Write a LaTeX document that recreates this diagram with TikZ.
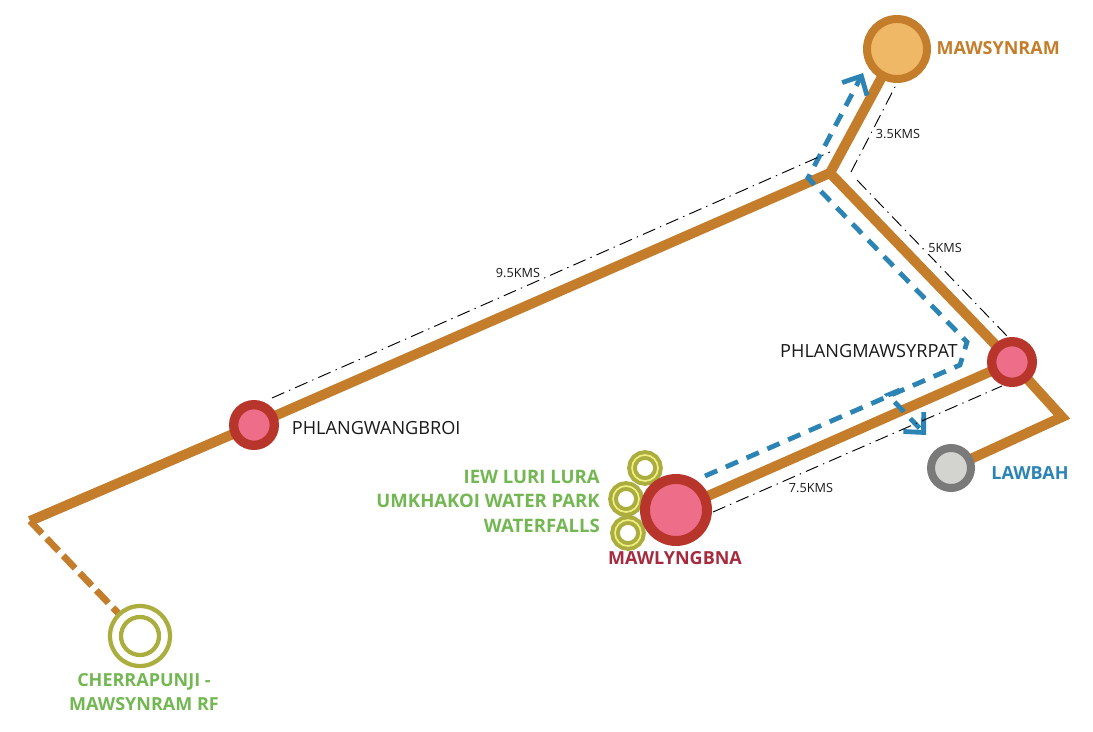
\documentclass[tikz,border=0pt]{standalone}
\usepackage{fontspec}
\setmainfont{Open Sans}
\usepackage{xcolor}
\usetikzlibrary{arrows.meta,positioning,backgrounds}
\definecolor{roadline}{RGB}{196,125,42}
\definecolor{sunbg}{RGB}{239,184,102}
\definecolor{townline}{RGB}{184,53,43}
\definecolor{townbg}{RGB}{238,110,138}
\definecolor{greyline}{RGB}{122,122,122}
\definecolor{greybg}{RGB}{211,211,207}
\definecolor{oliveline}{RGB}{171,173,63}
\definecolor{paleline}{RGB}{240,240,130}
\definecolor{forestgreen}{RGB}{115,183,82}
\definecolor{routeblue}{RGB}{43,132,180}
\definecolor{townname}{RGB}{166,43,63}
\tikzset{
  road/.style={draw=roadline, line width=7.5pt, line join=miter},
  roaddashed/.style={draw=roadline, line width=5pt, dash pattern=on 13pt off 5pt},
  ring/.style={circle, inner sep=0pt, outer sep=0pt},
  townring/.style={ring, draw=townline, fill=townbg, line width=7pt, minimum size=30.5pt},
  bigring/.style={ring, draw=townline, fill=townbg, line width=7.5pt, minimum size=46.5pt},
  sunring/.style={ring, draw=roadline, fill=sunbg, line width=6pt, minimum size=45pt},
  greyring/.style={ring, draw=greyline, fill=greybg, line width=6pt, minimum size=30pt},
  forestring/.style={ring, draw=oliveline, line width=3.2pt},
  fallring/.style={ring, draw=oliveline, fill=white, line width=3pt, double=paleline, double distance=1.25pt, minimum size=19.5pt},
  route/.style={draw=routeblue, line width=3.6pt, dash pattern=on 10pt off 7pt},
  routetip/.style={-{Straight Barb[length=11pt,width=21pt,sharp]}},
  measure/.style={draw=black, line width=0.7pt, dash pattern=on 10pt off 4pt on 1pt off 4pt},
  distlabel/.style={font=\fontsize{9.5}{11}\selectfont, inner sep=1pt, text=black!90},
  placelabel/.style={font=\fontsize{13.6}{15}\selectfont, inner sep=0pt, text=black!90},
  colorlabel/.style={font=\fontsize{13.5}{18.2}\selectfont\bfseries, inner sep=0pt},
  falllabel/.style={font=\fontsize{13.9}{18.4}\selectfont\bfseries, inner sep=0pt}
}
\begin{document}
\begin{tikzpicture}[x=0.75pt, y=-0.75pt]
  \useasboundingbox (0,0) rectangle (1093,732);

  % places
  \node[sunring] (mawsynram) at (897,49) {};
  \node[townring] (wangbroi) at (254,425) {};
  \node[townring] (mawsyrpat) at (1012,362) {};
  \node[greyring] (lawbah) at (951,468) {};
  \node[fallring] (fallone) at (645,468) {};
  \node[fallring] (falltwo) at (626,499) {};
  \node[fallring] (fallthree) at (628,533) {};
  \node[bigring] (mawlyngbna) at (676,510) {};
  \node[forestring, minimum size=45pt] (forest) at (140,636) {};
  \node[forestring, minimum size=28.5pt] (forestin) at (140,636) {};

  % road bends
  \coordinate (roadend) at (30,521);
  \coordinate (fork) at (830,173);
  \coordinate (bend) at (1062,417);

  \begin{scope}[on background layer]
    \draw[road] (roadend) -- (wangbroi.center);
    \draw[road] (wangbroi.center) -- (fork) -- (mawsynram.center);
    \draw[road] (fork) -- (mawsyrpat.center);
    \draw[road] (mawsyrpat.center) -- (bend) -- (lawbah.center);
    \draw[road] (mawlyngbna.center) -- (mawsyrpat.center);
    \draw[roaddashed] (roadend) -- (forest);
  \end{scope}

  % route
  \coordinate (routea) at (705,476);
  \coordinate (routeb) at (960,365);
  \coordinate (routec) at (967,342);
  \coordinate (routed) at (808,178);
  \coordinate (routee) at (863,73);
  \coordinate (routef) at (900,390);
  \coordinate (routeg) at (888,395);
  \coordinate (routeh) at (926,435);
  \draw[route, routetip] (routea) -- (routeb) -- (routec) -- (routed) -- (routee);
  \draw[route, routetip] (routef) -- (routeg) -- (routeh);

  % distances
  \coordinate (measa) at (272,398);
  \coordinate (measb) at (830,152);
  \coordinate (measc) at (851,172);
  \coordinate (measd) at (897,83);
  \coordinate (mease) at (857,180);
  \coordinate (measf) at (1007,336);
  \coordinate (measg) at (713,512);
  \coordinate (meash) at (1002,386);
  \draw[measure] (measa) -- (measb);
  \draw[measure] (measc) -- (measd);
  \draw[measure] (mease) -- (measf);
  \draw[measure] (measg) -- (meash);
  \node[distlabel, fill=white] (dista) at (518,273) {9.5KMS};
  \node[distlabel] (distb) at (898,134) {3.5KMS};
  \node[distlabel, fill=white] (distc) at (945,248) {5KMS};
  \node[distlabel] (distd) at (811,488) {7.5KMS};

  % names
  \node[colorlabel, text=roadline, right=7pt of mawsynram, yshift=1pt] (mawsynramname) {MAWSYNRAM};
  \node[placelabel, right=13pt of wangbroi, yshift=-2pt] (wangbroiname) {PHLANGWANGBROI};
  \node[placelabel, anchor=east] (mawsyrpatname) at (958,351) {PHLANGMAWSYRPAT};
  \node[colorlabel, text=routeblue] (lawbahname) at (1030,473) {LAWBAH};
  \node[colorlabel, text=townname] (mawlyngbnaname) at (675,558) {MAWLYNGBNA};
  \node[falllabel, text=forestgreen, align=right, anchor=east] (fallname) at (600,501) {IEW LURI LURA\\UMKHAKOI WATER PARK\\WATERFALLS};
  \node[colorlabel, text=forestgreen, align=center] (forestname) at (144,692) {CHERRAPUNJI -\\MAWSYNRAM RF};
\end{tikzpicture}
\end{document}
